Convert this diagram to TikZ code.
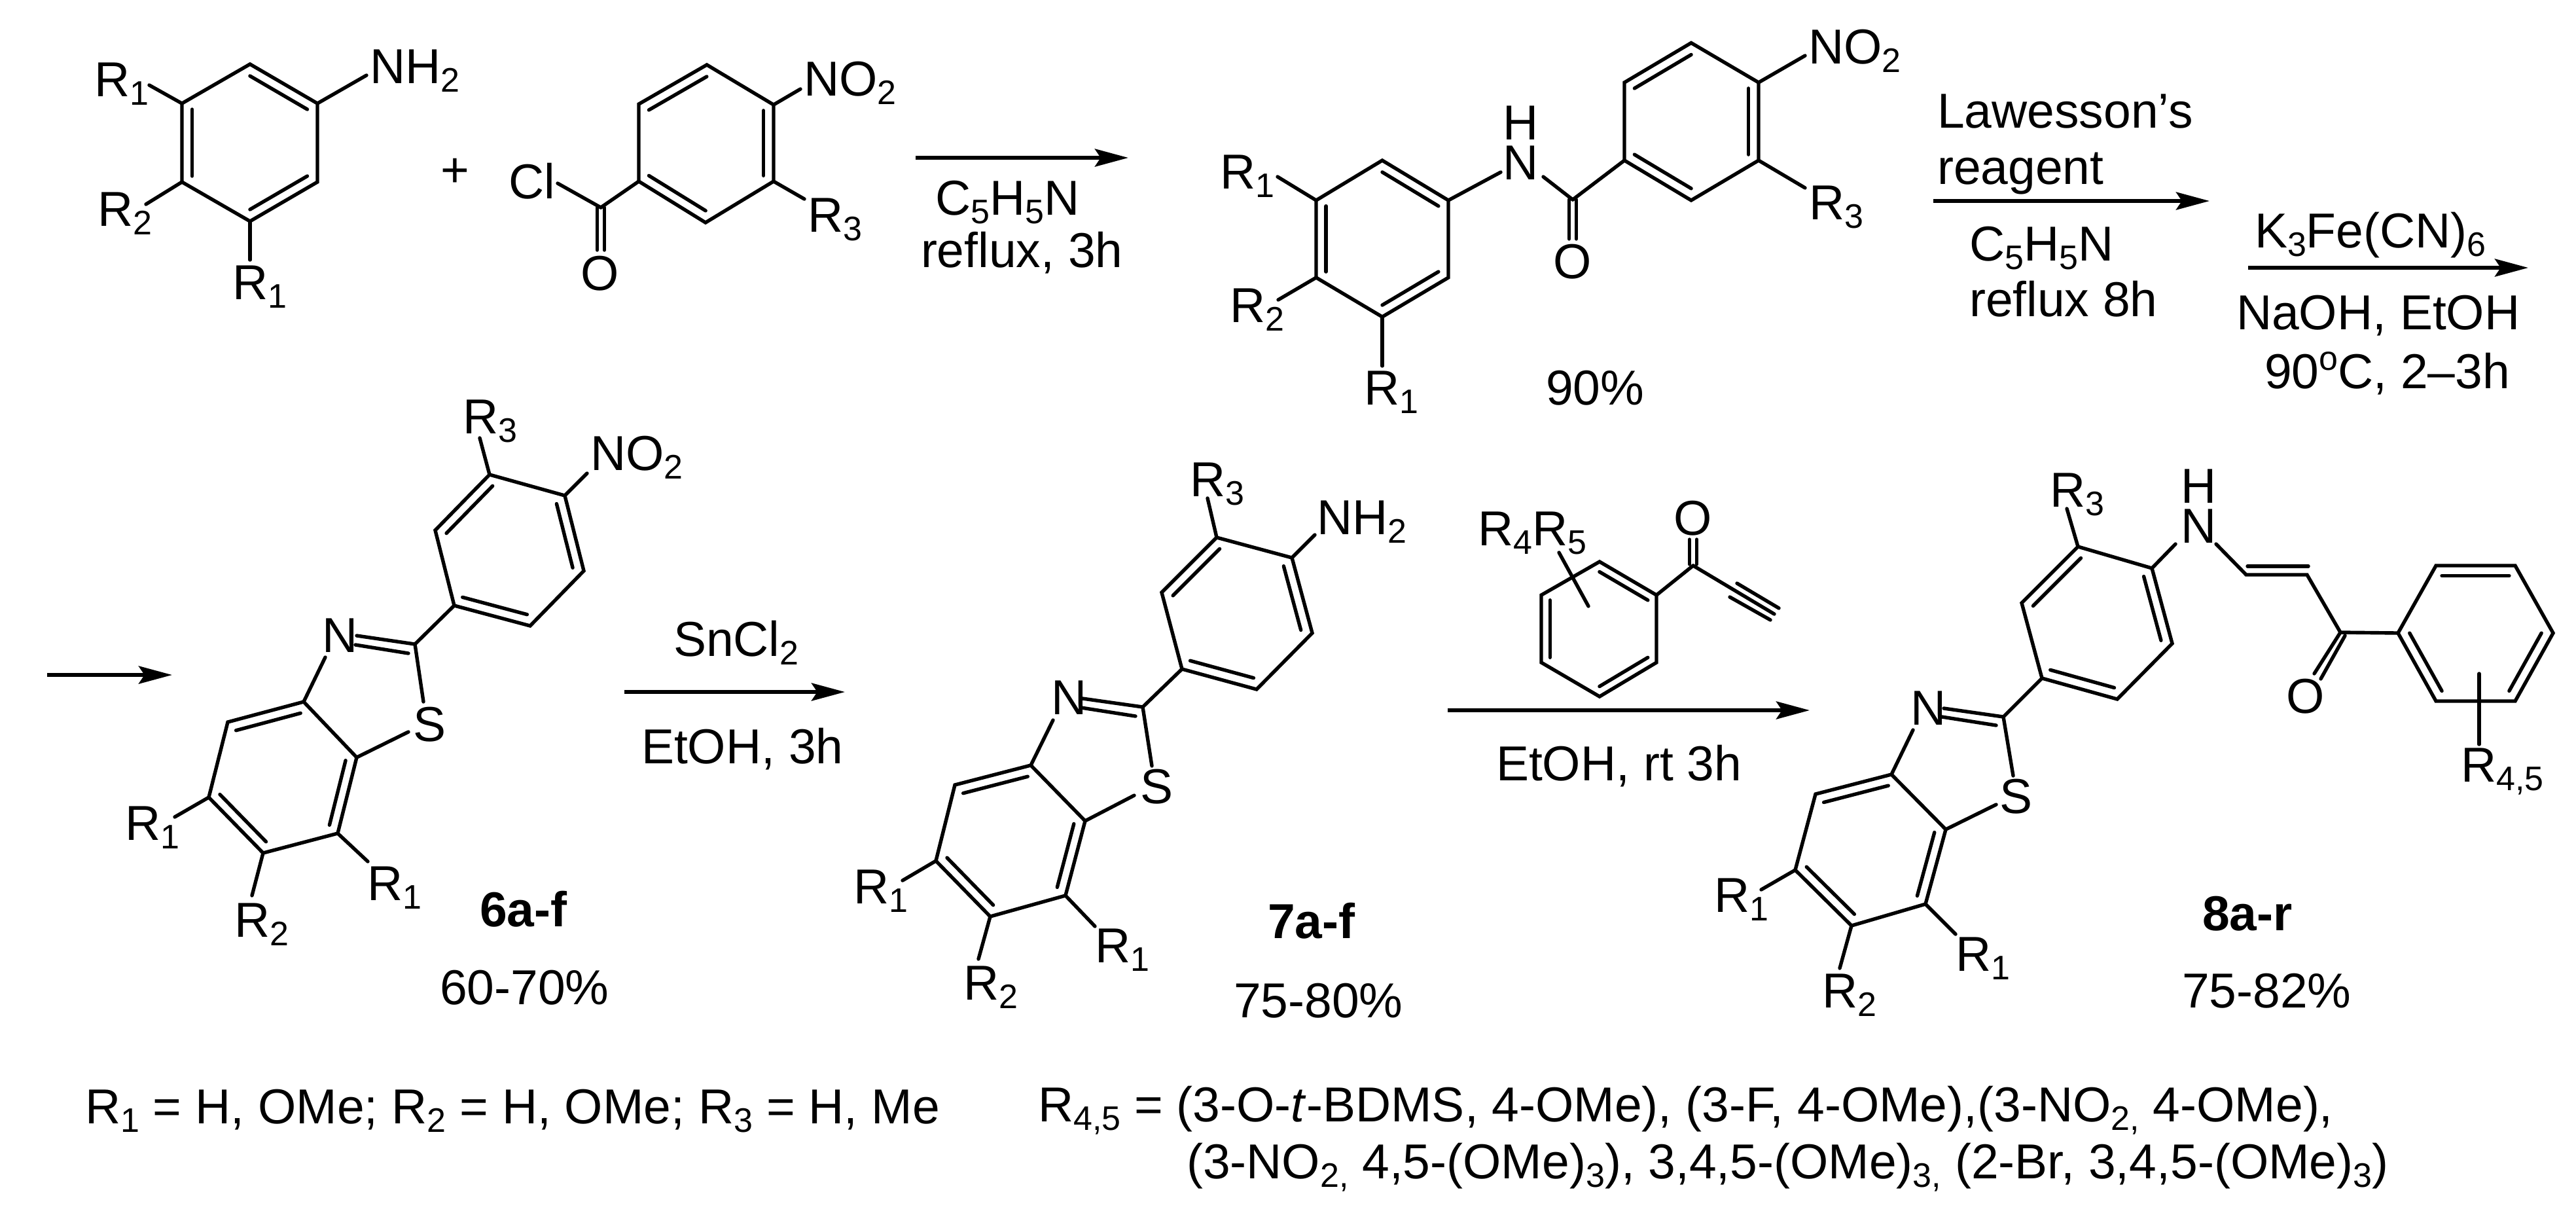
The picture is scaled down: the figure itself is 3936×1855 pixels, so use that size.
\documentclass[tikz,border=0pt]{standalone}
\usepackage{fontspec}
\setmainfont{Liberation Sans}
\usetikzlibrary{arrows.meta,calc}
\newcommand{\sbs}[1]{\raisebox{-3.3pt}{\fontsize{13}{14}\selectfont #1}}
\newcommand{\sps}[1]{\raisebox{7pt}{\fontsize{13}{14}\selectfont #1}}
\newcommand{\atm}[2]{\coordinate (#1) at (#2);}
\newcommand{\lab}[3]{\node[chemlab] (#1) at (#2) {#3};}
\newcommand{\labc}[3]{\node[chemlab,anchor=base] (#1) at (#2) {#3};}
\newcommand{\dbl}[3]{\draw[bond] ($(#1)!0.85!(#2)$) -- ($(#1)!0.85!(#3)$);}
\newcommand{\btzdraw}[1]{%
  \coordinate (#1ca) at ($(#1a)!.5!(#1d)$);
  \coordinate (#1cb) at ($(#1c4)!.5!(#1c7)$);
  \draw[bond] (#1a) -- (#1b) -- (#1c) -- (#1d) -- (#1e) -- (#1f) -- cycle;
  \dbl{#1ca}{#1a}{#1f}\dbl{#1ca}{#1b}{#1c}\dbl{#1ca}{#1d}{#1e}
  \draw[bond] (#1e) -- (#1c2);
  \draw[bond] (#1c2) -- (#1na);
  \draw[bond] (#1ni) -- (#1nj);
  \draw[bond] (#1nc) -- (#1c3a);
  \draw[bond] (#1c3a) -- (#1c4) -- (#1c5) -- (#1c6) -- (#1c7) -- (#1c7a) -- cycle;
  \draw[bond] (#1c2) -- (#1sa);
  \draw[bond] (#1c7a) -- (#1sb);
  \dbl{#1cb}{#1c3a}{#1c4}\dbl{#1cb}{#1c5}{#1c6}\dbl{#1cb}{#1c7}{#1c7a}
  \draw[bond] (#1a) -- (#1r3e);
  \draw[bond] (#1b) -- (#1xe);
  \draw[bond] (#1c5) -- (#1r1l);
  \draw[bond] (#1c7) -- (#1r1r);
  \draw[bond] (#1c6) -- (#1r2e);
}
\tikzset{
  bond/.style={line width=1.35pt,line cap=round,line join=miter,black},
  rxn/.style={line width=1.5pt,-{Stealth[length=12.75pt,width=6.75pt,inset=2.2pt]}},
  chemlab/.style={inner sep=0pt,outer sep=0pt,anchor=base west,font=\fontsize{18.75}{22}\selectfont}
}
\begin{document}
\begin{tikzpicture}[x=0.25pt,y=-0.25pt]
\useasboundingbox (0,0) rectangle (3936,1855);
% ---------- aniline
\atm{at}{382,98}\atm{aur}{485,158}\atm{alr}{485,278}\atm{ab}{382,338}\atm{all}{278,278}\atm{aul}{278,158}
\atm{acn}{381.5,218}
\draw[bond] (at) -- (aur) -- (alr) -- (ab) -- (all) -- (aul) -- cycle;
\dbl{acn}{at}{aur}\dbl{acn}{alr}{ab}\dbl{acn}{all}{aul}
\atm{anh}{560,115}\atm{ar1}{228,130}\atm{ar2}{223,312}\atm{ar1b}{382,397}
\draw[bond] (aur) -- (anh);\draw[bond] (aul) -- (ar1);\draw[bond] (all) -- (ar2);\draw[bond] (ab) -- (ar1b);
\lab{aNH}{565,127}{NH\sbs{2}}
\lab{aR1}{144,147}{R\sbs{1}}
\lab{aR2}{149,345}{R\sbs{2}}
\lab{aR1b}{355,457}{R\sbs{1}}
\labc{plus}{695,285}{+}
% ---------- acid chloride
\atm{bt}{1080,99}\atm{bur}{1182,160}\atm{blr}{1182,277}\atm{bb}{1078,340}\atm{bll}{976,277}\atm{bul}{976,159}
\atm{bcn}{1079,219}\atm{bco}{918,317}\atm{bcl}{852,280}\atm{bno}{1223,136}\atm{brt}{1229,304}
\atm{bo1}{912.5,317}\atm{bo2}{923.5,317}\atm{bo3}{912.5,382}\atm{bo4}{923.5,382}
\draw[bond] (bt) -- (bur) -- (blr) -- (bb) -- (bll) -- (bul) -- cycle;
\dbl{bcn}{bt}{bul}\dbl{bcn}{bur}{blr}\dbl{bcn}{bb}{bll}
\draw[bond] (bll) -- (bco);\draw[bond] (bco) -- (bcl);\draw[bond] (bur) -- (bno);\draw[bond] (blr) -- (brt);
\draw[bond] (bo1) -- (bo3);\draw[bond] (bo2) -- (bo4);
\lab{bNO}{1228,146}{NO\sbs{2}}
\lab{bCl}{777,303}{Cl}
\labc{bO}{917,443}{O}
\lab{bR3}{1234,354}{R\sbs{3}}
% ---------- arrow 1
\atm{ar1s}{1399,241}\atm{ar1e}{1724,241}
\draw[rxn] (ar1s) -- (ar1e);
\lab{t1a}{1429,328}{C\sbs{5}H\sbs{5}N}
\lab{t1b}{1407,408}{reflux, 3h}
% ---------- amide
\atm{cAt}{2584,65.5}\atm{cAur}{2687,126}\atm{cAlr}{2687,245}\atm{cAb}{2584,306}\atm{cAll}{2482,245}\atm{cAul}{2482,126}\atm{cAc}{2584.5,185.5}
\atm{cBt}{2112,245}\atm{cBur}{2213,306}\atm{cBlr}{2213,424}\atm{cBb}{2112,484}\atm{cBll}{2011,424}\atm{cBul}{2011,306}\atm{cBc}{2112,364.5}
\draw[bond] (cAt) -- (cAur) -- (cAlr) -- (cAb) -- (cAll) -- (cAul) -- cycle;
\dbl{cAc}{cAt}{cAul}\dbl{cAc}{cAur}{cAlr}\dbl{cAc}{cAb}{cAll}
\draw[bond] (cBt) -- (cBur) -- (cBlr) -- (cBb) -- (cBll) -- (cBul) -- cycle;
\dbl{cBc}{cBt}{cBur}\dbl{cBc}{cBlr}{cBb}\dbl{cBc}{cBll}{cBul}
\atm{cco}{2403,305}\atm{cn1}{2293,263}\atm{cn2}{2358,270}\atm{cno}{2758,85}\atm{cr3}{2758,287}\atm{cr1}{1952,270}\atm{cr2}{1953,458}\atm{cr1b}{2112,559}
\atm{co1}{2397.5,305}\atm{co2}{2408.5,305}\atm{co3}{2397.5,365}\atm{co4}{2408.5,365}
\draw[bond] (cBur) -- (cn1);\draw[bond] (cn2) -- (cco);\draw[bond] (cco) -- (cAll);
\draw[bond] (co1) -- (co3);\draw[bond] (co2) -- (co4);
\draw[bond] (cAur) -- (cno);\draw[bond] (cAlr) -- (cr3);\draw[bond] (cBul) -- (cr1);\draw[bond] (cBll) -- (cr2);\draw[bond] (cBb) -- (cr1b);
\labc{cN}{2324,274}{N}
\labc{cH}{2324,213}{H}
\labc{cO}{2403,425}{O}
\lab{cNO}{2763,97}{NO\sbs{2}}
\lab{cR3}{2764,335}{R\sbs{3}}
\lab{cR1}{1864,288}{R\sbs{1}}
\lab{cR2}{1879,492}{R\sbs{2}}
\lab{cR1b}{2084,618}{R\sbs{1}}
\lab{cy}{2362,618}{90\%}
% ---------- arrow 2
\atm{ar2s}{2954,307}\atm{ar2e}{3376,307}
\draw[rxn] (ar2s) -- (ar2e);
\lab{t2a}{2960,195}{Lawesson's}
\lab{t2b}{2960,281}{reagent}
\lab{t2c}{3009,398}{C\sbs{5}H\sbs{5}N}
\lab{t2d}{3009,483}{reflux 8h}
% ---------- arrow 3
\atm{ar3s}{3435,409}\atm{ar3e}{3863,409}
\draw[rxn] (ar3s) -- (ar3e);
\lab{t3a}{3445,378}{K\sbs{3}Fe(CN)\sbs{6}}
\lab{t3b}{3417,503}{NaOH, EtOH}
\lab{t3c}{3460,593}{90\sps{o}C, 2--3h}
\atm{ar4s}{72,1031}\atm{ar4e}{263,1031}
\draw[rxn] (ar4s) -- (ar4e);
% ---------- compound 6
\atm{6a}{748,725}\atm{6b}{863,757}\atm{6c}{892,872}\atm{6d}{810,956}\atm{6e}{694,925}\atm{6f}{665,810}
\atm{6c2}{634,984}\atm{6na}{545,971}\atm{6ni}{624,998}\atm{6nj}{543,985}\atm{6nc}{497,1004}
\atm{6c3a}{464,1072}\atm{6c7a}{545,1157}\atm{6sa}{647,1072}\atm{6sb}{624,1118}
\atm{6c4}{348,1103}\atm{6c5}{319,1218}\atm{6c6}{402,1303}\atm{6c7}{516,1273}
\atm{6r3e}{733,669}\atm{6xe}{897,723}\atm{6r1l}{267,1248}\atm{6r1r}{562,1316}\atm{6r2e}{385,1368}
\btzdraw{6}
\lab{6R3}{707,662}{R\sbs{3}}
\lab{6NO}{902,718}{NO\sbs{2}}
\lab{6N}{492,996}{N}
\lab{6S}{631,1132}{S}
\lab{6R1l}{191,1283}{R\sbs{1}}
\lab{6R1r}{561,1375}{R\sbs{1}}
\lab{6R2}{358,1431}{R\sbs{2}}
\node[chemlab,font=\fontsize{18.75}{22}\selectfont\bfseries] (6id) at (733,1415) {6a-f};
\lab{6y}{672,1534}{60-70\%}
% ---------- arrow SnCl2
\atm{ar5s}{954,1057}\atm{ar5e}{1291,1057}
\draw[rxn] (ar5s) -- (ar5e);
\lab{t5a}{1029,1002}{SnCl\sbs{2}}
\lab{t5b}{980,1166}{EtOH, 3h}
% ---------- compound 7
\atm{7a}{1859,821}\atm{7b}{1974,852}\atm{7c}{2005,967}\atm{7d}{1920,1053}\atm{7e}{1806,1022}\atm{7f}{1775,905}
\atm{7c2}{1746,1080}\atm{7na}{1654,1067}\atm{7ni}{1735,1094}\atm{7nj}{1652,1081}\atm{7nc}{1609,1100}
\atm{7c3a}{1575,1169}\atm{7c7a}{1658,1254}\atm{7sa}{1760,1170}\atm{7sb}{1733,1215}
\atm{7c4}{1459,1199}\atm{7c5}{1430,1315}\atm{7c6}{1513,1400}\atm{7c7}{1628,1368}
\atm{7r3e}{1845,761}\atm{7xe}{2009,817}\atm{7r1l}{1379,1345}\atm{7r1r}{1673,1415}\atm{7r2e}{1495,1465}
\btzdraw{7}
\lab{7R3}{1818,758}{R\sbs{3}}
\lab{7NH}{2012,816}{NH\sbs{2}}
\lab{7N}{1606,1091}{N}
\lab{7S}{1742,1227}{S}
\lab{7R1l}{1304,1380}{R\sbs{1}}
\lab{7R1r}{1673,1470}{R\sbs{1}}
\lab{7R2}{1472,1527}{R\sbs{2}}
\node[chemlab,font=\fontsize{18.75}{22}\selectfont\bfseries] (7id) at (1937,1433) {7a-f};
\lab{7y}{1885,1554}{75-80\%}
% ---------- ynone reagent
\atm{dt}{2444,858}\atm{dur}{2531,909}\atm{dlr}{2531,1012}\atm{db}{2444,1064}\atm{dll}{2355,1012}\atm{dul}{2355,909}\atm{dc}{2443,961}
\draw[bond] (dt) -- (dur) -- (dlr) -- (db) -- (dll) -- (dul) -- cycle;
\dbl{dc}{dt}{dur}\dbl{dc}{dlr}{db}\dbl{dc}{dll}{dul}
\atm{dco}{2587,864}\atm{do1}{2581.5,862}\atm{do2}{2592.5,862}\atm{do3}{2581.5,824}\atm{do4}{2592.5,824}
\atm{dy1}{2711,938}\atm{dy2}{2654,891}\atm{dy3}{2718,929}\atm{dy4}{2643,912}\atm{dy5}{2705,947}
\atm{dsa}{2382,844}\atm{dsb}{2427,926}
\draw[bond] (dur) -- (dco);\draw[bond] (do1) -- (do3);\draw[bond] (do2) -- (do4);
\draw[bond] (dco) -- (dy1);\draw[bond] (dy2) -- (dy3);\draw[bond] (dy4) -- (dy5);
\draw[bond] (dsa) -- (dsb);
\lab{dR}{2258,833}{R\sbs{4}R\sbs{5}}
\labc{dO}{2587,817}{O}
% ---------- arrow 3 (rt)
\atm{ar6s}{2212,1085}\atm{ar6e}{2765,1085}
\draw[rxn] (ar6s) -- (ar6e);
\lab{t6a}{2286,1192}{EtOH, rt 3h}
% ---------- compound 8
\atm{8a}{3175,835}\atm{8b}{3288,868}\atm{8c}{3319,983}\atm{8d}{3235,1068}\atm{8e}{3120,1036}\atm{8f}{3089,921}
\atm{8c2}{3061,1095}\atm{8na}{2970,1082}\atm{8ni}{3050,1108}\atm{8nj}{2967,1095}\atm{8nc}{2923,1115}
\atm{8c3a}{2890,1183}\atm{8c7a}{2973,1267}\atm{8sa}{3076,1185}\atm{8sb}{3050,1229}
\atm{8c4}{2774,1213}\atm{8c5}{2743,1329}\atm{8c6}{2829,1414}\atm{8c7}{2942,1381}
\atm{8r3e}{3158,777}\atm{8xe}{3324,831}\atm{8r1l}{2691,1359}\atm{8r1r}{2988,1427}\atm{8r2e}{2811,1479}
\btzdraw{8}
\lab{8R3}{3132,774}{R\sbs{3}}
\labc{8Nh}{3360,829}{N}
\labc{8H}{3360,768}{H}
\lab{8N}{2919,1107}{N}
\lab{8S}{3055,1242}{S}
\lab{8R1l}{2619,1393}{R\sbs{1}}
\lab{8R1r}{2988,1483}{R\sbs{1}}
\lab{8R2}{2784,1539}{R\sbs{2}}
\node[chemlab,font=\fontsize{18.75}{22}\selectfont\bfseries] (8id) at (3365,1421) {8a-r};
\lab{8y}{3334,1539}{75-82\%}
\atm{8n2}{3386,831}\atm{8al}{3432,878}\atm{8be}{3525,878}\atm{8ai}{3434,865}\atm{8bi}{3527,865}\atm{8co}{3576,966}
\atm{8o1}{3536,1029}\atm{8o2}{3583,971}\atm{8o3}{3546,1037}
\atm{8pl}{3664,967}\atm{8pul}{3722,864}\atm{8pur}{3843,864}\atm{8pr}{3901,967}\atm{8plr}{3843,1071}\atm{8pll}{3722,1071}\atm{8pc}{3782,967.5}
\atm{8ra}{3788,1029}\atm{8rb}{3788,1137}
\draw[bond] (8n2) -- (8al) -- (8be) -- (8co) -- (8pl);
\draw[bond] (8ai) -- (8bi);
\draw[bond] (8co) -- (8o1);\draw[bond] (8o2) -- (8o3);
\draw[bond] (8pl) -- (8pul) -- (8pur) -- (8pr) -- (8plr) -- (8pll) -- cycle;
\dbl{8pc}{8pul}{8pur}\dbl{8pc}{8pr}{8plr}\dbl{8pc}{8pll}{8pl}
\draw[bond] (8ra) -- (8rb);
\labc{8O}{3523,1089}{O}
\lab{8R45}{3760,1194}{R\sbs{4,5}}
% ---------- footnotes
\lab{f1}{130,1716}{R\sbs{1} = H, OMe; R\sbs{2} = H, OMe; R\sbs{3} = H, Me}
\lab{f2}{1586,1713}{R\sbs{4,5} = (3-O-\textit{t}-BDMS, 4-OMe), (3-F, 4-OMe),(3-NO\sbs{2,} 4-OMe),}
\lab{f3}{1813,1800}{(3-NO\sbs{2,} 4,5-(OMe)\sbs{3}), 3,4,5-(OMe)\sbs{3,} (2-Br, 3,4,5-(OMe)\sbs{3})}
\end{tikzpicture}
\end{document}
